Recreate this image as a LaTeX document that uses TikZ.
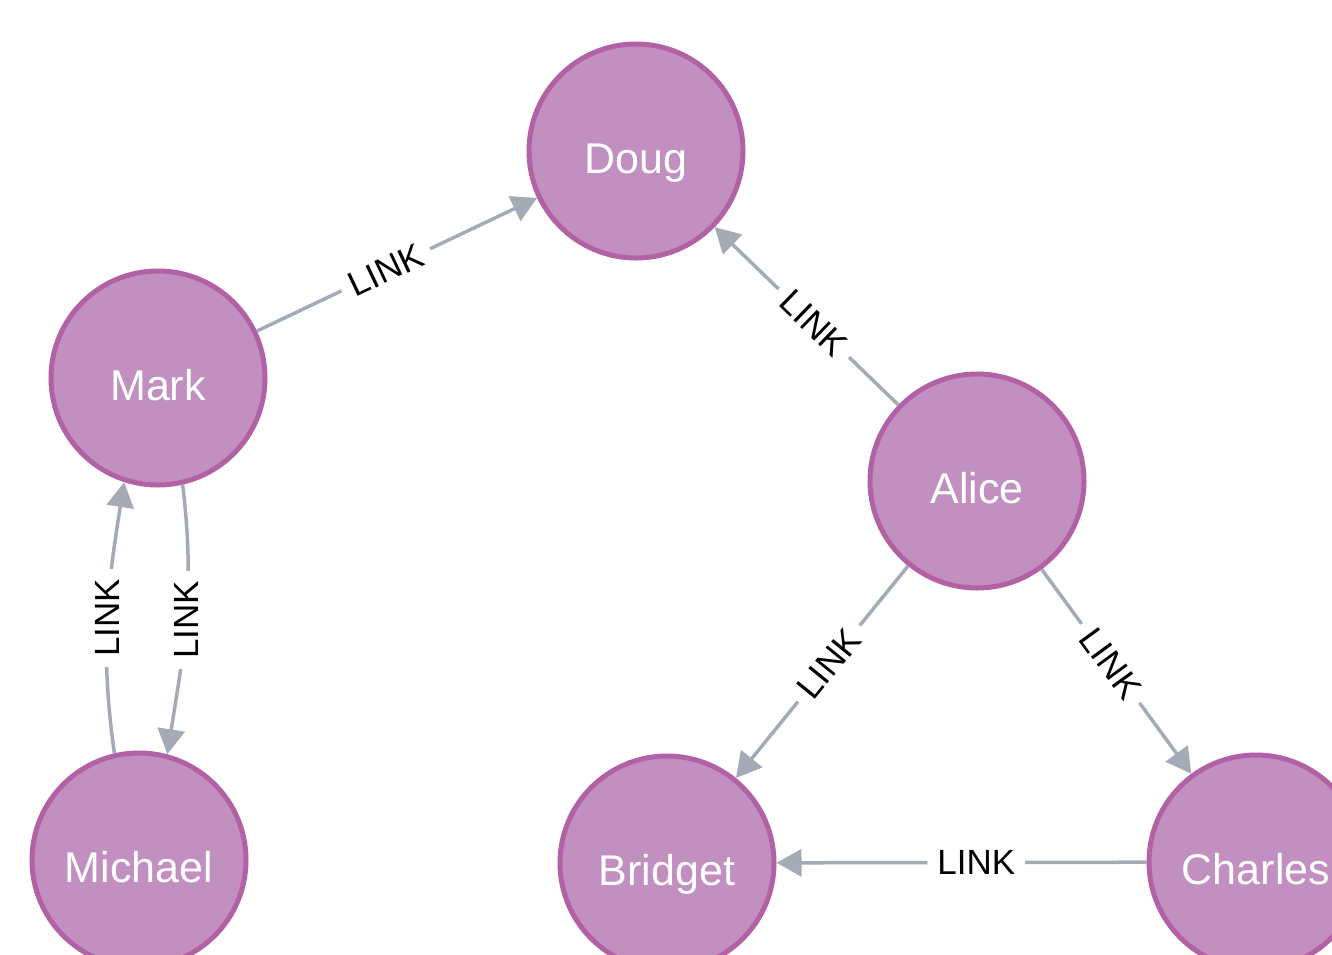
\documentclass[tikz,border=0pt]{standalone}
\usepackage{fontspec}
\setmainfont{Liberation Sans}
\usetikzlibrary{arrows.meta}
\definecolor{nodefill}{HTML}{C290C0}
\definecolor{nodeborder}{HTML}{B261A5}
\definecolor{edgegray}{HTML}{A5ABB6}
\begin{document}
\begin{tikzpicture}[x=1pt,y=1pt,
  person/.style={circle, fill=nodefill, draw=nodeborder, line width=5pt,
    minimum size=214pt, inner sep=0pt, text=white,
    text height=44pt, text depth=0pt,
    font=\fontsize{43}{43}\selectfont},
  rel/.style={draw=edgegray, line width=3.5pt,
    -{Triangle[length=25pt,width=27pt]}},
  lbl/.style={fill=white, text=black, inner xsep=10pt, inner ysep=3pt,
    font=\fontsize{35}{35}\selectfont}]
\useasboundingbox (0,0) rectangle (1332,-954);
\clip (0,0) rectangle (1332,-954);
\fill[white] (0,0) rectangle (1332,-954);

\node[person] (doug)    at (636,-151)  {Doug};
\node[person] (mark)    at (158,-378)  {Mark};
\node[person] (alice)   at (977,-481)  {Alice};
\node[person] (michael) at (139,-860)  {Michael};
\node[person] (bridget) at (667,-863)  {Bridget};
\node[person] (charles) at (1256,-862) {Charles};

\draw[rel] (mark) -- node[lbl, sloped, pos=0.46] (l1) {LINK} (doug);
\draw[rel] (alice) -- node[lbl, sloped, pos=0.46] (l2) {LINK} (doug);
\draw[rel] (alice) -- node[lbl, sloped, pos=0.46] (l3) {LINK} (bridget);
\draw[rel] (alice) -- node[lbl, sloped, pos=0.46] (l4) {LINK} (charles);
\draw[rel] (charles) -- node[lbl, sloped, pos=0.46] (l5) {LINK} (bridget);

\draw[rel] (mark.-77) to[out=-83, in=81]
  node[lbl, rotate=90, midway] (l6) {LINK} (michael.75);
\draw[rel] (michael.103) to[out=98, in=-99]
  node[lbl, rotate=90, midway] (l7) {LINK} (mark.-108);
\end{tikzpicture}
\end{document}
